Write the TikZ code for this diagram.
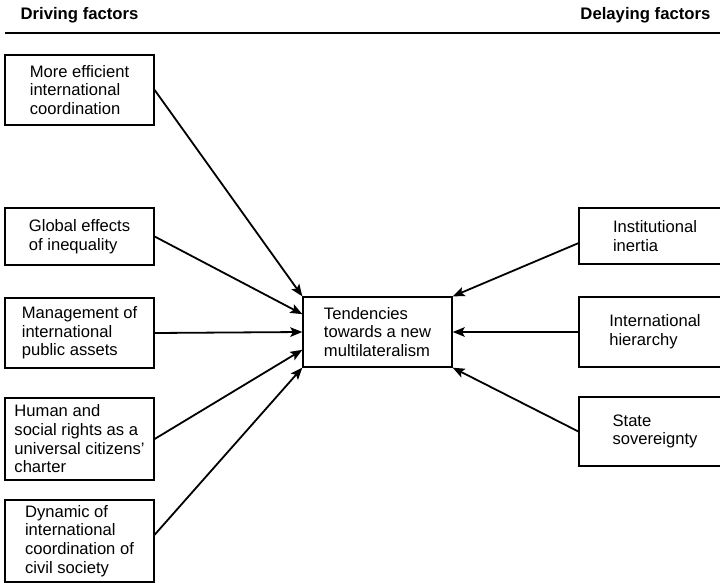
\documentclass[tikz,border=0pt]{standalone}
\usepackage{fontspec}
\setmainfont{Liberation Sans}
\usetikzlibrary{arrows.meta,calc}

\tikzset{every picture/.style={line width=1.2pt}}
\tikzset{
  factor/.style={draw, line width=1.3pt, minimum width=149pt, align=left, inner sep=0pt, font=\fontsize{16.6}{18.7}\selectfont},
  headtext/.style={font=\bfseries\fontsize{16.7}{18}\selectfont, inner sep=0pt},
  push/.style={-{Stealth[length=12pt,width=9.5pt,inset=2.5pt]}, line width=1.8pt},
}

\begin{document}
\begin{tikzpicture}[x=1pt,y=1pt,yscale=-1,xscale=1]
\useasboundingbox (0,0) rectangle (720,583);

% Text Node
\node[headtext, anchor=west] (drvhead) at (20,15) {Driving factors};
% Text Node
\node[headtext, anchor=east] (dlyhead) at (711,15) {Delaying factors};
%Straight Lines
\draw [line width=1.6pt] (5,33) -- (720,33);

%Shape: Rectangle (driving factors)
\node[factor, minimum height=70pt] (drv1) at (79.5,90) {More efficient\\international\\coordination};
\node[factor, minimum height=57pt] (drv2) at (79.5,236.5) {Global effects\\of inequality};
\node[factor, minimum height=70pt] (drv3) at (79.5,333) {Management of\\international\\public assets};
\node[factor, minimum height=82pt] (drv4) at (79.5,439) {Human and\\social rights as a\\universal citizens'\\charter};
\node[factor, minimum height=82pt] (drv5) at (79.5,541) {Dynamic of\\international\\coordination of\\civil society};

%Shape: Rectangle (centre)
\node[factor, minimum height=70pt] (ctr) at (377.5,332) {Tendencies\\towards a new\\multilateralism};

%Shape: Rectangle (delaying factors)
\node[factor, minimum width=152pt, minimum height=56pt] (dly1) at (655,236) {Institutional\\inertia};
\node[factor, minimum width=152pt, minimum height=70pt] (dly2) at (655,332) {International\\hierarchy};
\node[factor, minimum width=152pt, minimum height=69pt] (dly3) at (655,431.5) {State\\sovereignty};

%Straight Lines
\draw [push] (drv1.east) -- (ctr.north west);
\draw [push] (drv2.east) -- ($(ctr.west)!0.5!(ctr.north west)$);
\draw [push] (drv3.east) -- (ctr.west);
\draw [push] (drv4.east) -- ($(ctr.west)!0.5!(ctr.south west)$);
\draw [push] ($(drv5.east)!0.15!(drv5.north east)$) -- (ctr.south west);

%Straight Lines
\draw [push] ($(dly1.west)!0.25!(dly1.south west)$) -- (ctr.north east);
\draw [push] (dly2.west) -- (ctr.east);
\draw [push] (dly3.west) -- (ctr.south east);

\end{tikzpicture}
\end{document}
